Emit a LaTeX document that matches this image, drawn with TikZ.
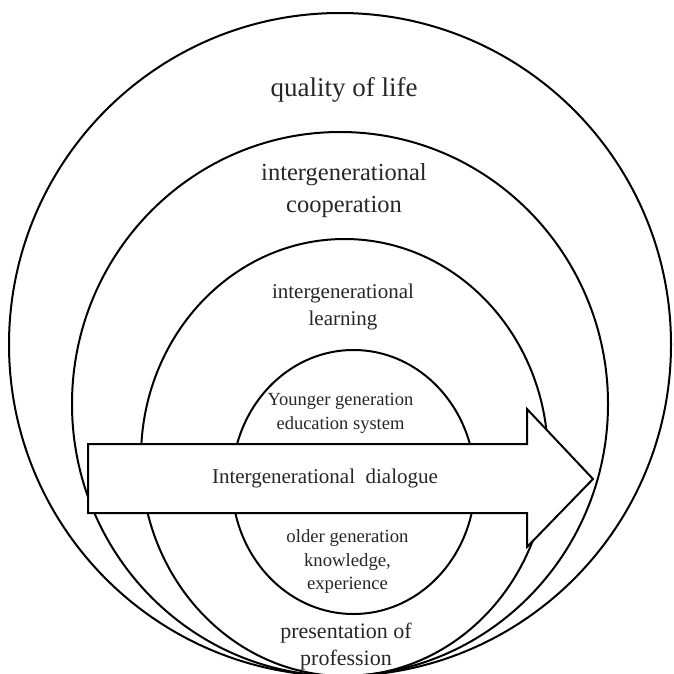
\documentclass[tikz,border=0pt]{standalone}
\usepackage{fontspec}
\setmainfont{Liberation Serif}
\begin{document}
\begin{tikzpicture}[x=1pt,y=-1pt,
  ring/.style={line width=2pt},
  lbl/.style={align=center,inner sep=0pt,text=black!85},
  fs/.style 2 args={font=\fontsize{#1}{#2}\selectfont}]
\useasboundingbox (0,0) rectangle (673,674);
\begin{scope}
\clip (0,0) rectangle (673,674);
\draw[ring] (340,344.5) ellipse [x radius=331pt, y radius=331.5pt];
\draw[ring] (340,404) ellipse [x radius=268pt, y radius=272pt];
\draw[ring] (344.5,457.5) ellipse [x radius=203.5pt, y radius=218.5pt];
\draw[ring] (353.5,482) ellipse [x radius=121.5pt, y radius=132pt];
\end{scope}
\draw[ring, fill=white, line join=miter] (88,444) -- (527,444) -- (527,409) -- (593,479) -- (527,547) -- (527,513) -- (88,513) -- cycle;
\node[lbl, fs={27}{30}] (q) at (344,90) {quality of life};
\node[lbl, fs={24.5}{32}] (c) at (344,191) {intergenerational\\cooperation};
\node[lbl, fs={21}{27}] (l) at (343,307) {intergenerational\\learning};
\node[lbl, fs={18.5}{24}] (y) at (340.5,413) {Younger generation\\education system};
\node[lbl, fs={21}{25}] (d) at (325,478) {Intergenerational\ \ dialogue};
\node[lbl, fs={18.7}{23.5}] (o) at (347.5,561.5) {older generation\\knowledge,\\experience};
\node[lbl, fs={22}{27}] (p) at (346,646.5) {presentation of\\profession};
\end{tikzpicture}
\end{document}
